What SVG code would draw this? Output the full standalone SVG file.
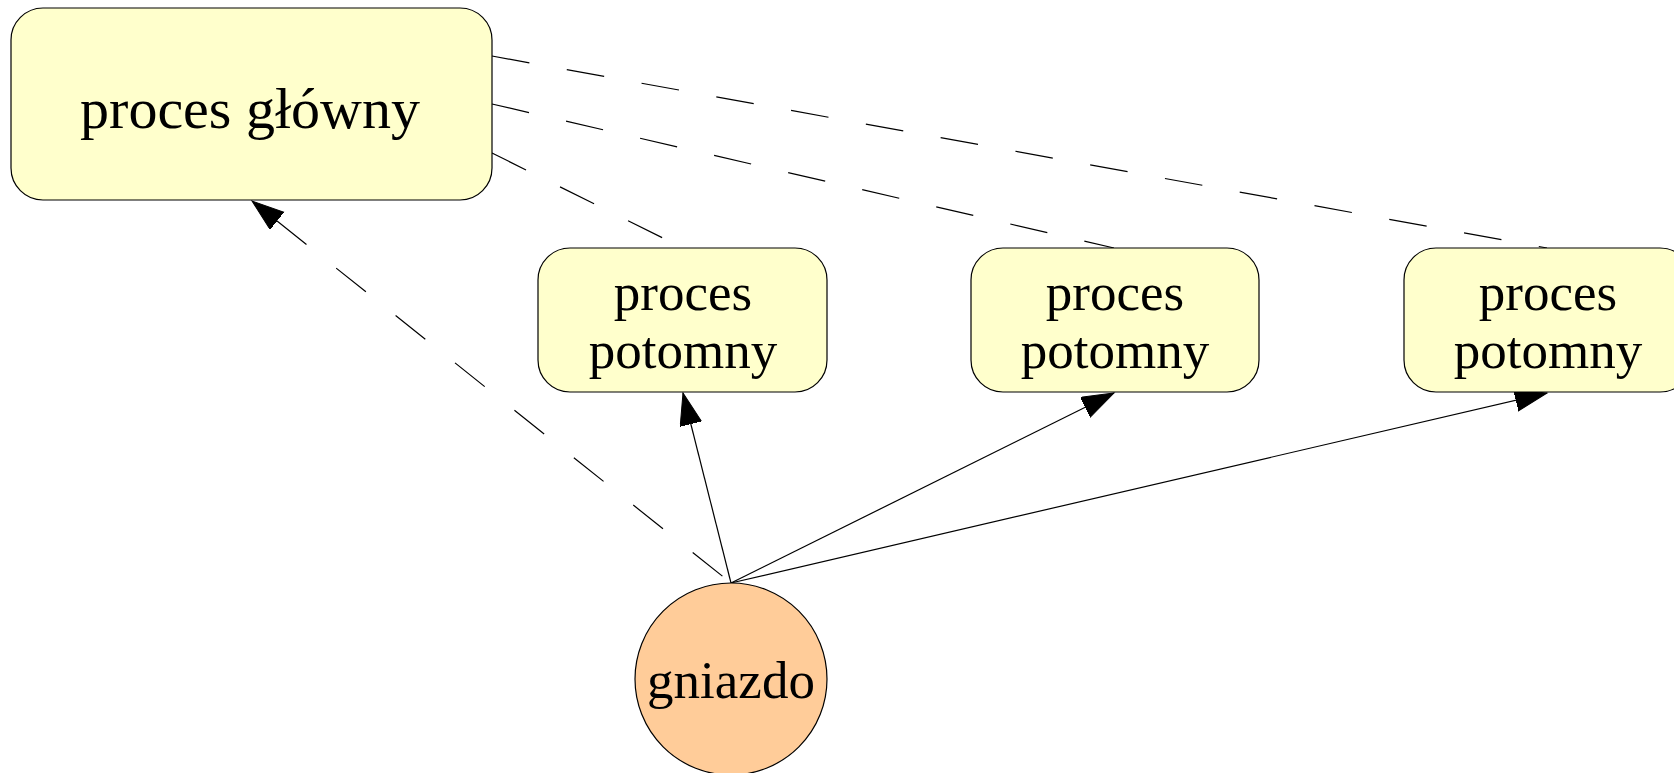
<svg xmlns="http://www.w3.org/2000/svg" width="1674" height="773" viewBox="0 0 1674 773">
<style>
.box{fill:#ffffcc;stroke:#000;stroke-width:1.2}
.circ{fill:#ffcc99;stroke:#000;stroke-width:1.2}
.t{font-family:"Liberation Serif","Times New Roman",serif;fill:#000;text-anchor:middle}
.e{fill:none;stroke:#000;stroke-width:1.2}
.d{stroke-dasharray:38 38}
</style>
<defs>
<marker id="ah" markerUnits="userSpaceOnUse" markerWidth="34" markerHeight="24" refX="32" refY="11" orient="auto">
<path d="M0,0 L32,11 L0,22 Z" fill="#000" stroke="#000"/>
</marker>
</defs>
<rect width="1674" height="773" fill="#fff"/>
<g id="edges">
<line class="e d" x1="492" y1="56" x2="1547" y2="248"/>
<line class="e d" x1="492" y1="104" x2="1114" y2="248"/>
<line class="e d" x1="492" y1="153" x2="683" y2="248"/>
<line class="e d" x1="731" y1="583" x2="252" y2="201" style="stroke-dashoffset:65" marker-end="url(#ah)"/>
<line class="e" x1="731" y1="583" x2="683" y2="393" marker-end="url(#ah)"/>
<line class="e" x1="731" y1="583" x2="1114" y2="393" marker-end="url(#ah)"/>
<line class="e" x1="731" y1="583" x2="1547" y2="393" marker-end="url(#ah)"/>
</g>
<g id="main">
<rect class="box" x="11" y="8" width="481" height="192" rx="32"/>
<text class="t" x="250" y="128" font-size="58">proces główny</text>
</g>
<g id="child1">
<rect class="box" x="538" y="248" width="289" height="144" rx="32"/>
<text class="t" x="683" y="310" font-size="53">proces</text>
<text class="t" x="683" y="368" font-size="53">potomny</text>
</g>
<g id="child2">
<rect class="box" x="971" y="248" width="288" height="144" rx="32"/>
<text class="t" x="1115" y="310" font-size="53">proces</text>
<text class="t" x="1115" y="368" font-size="53">potomny</text>
</g>
<g id="child3">
<rect class="box" x="1404" y="248" width="288" height="144" rx="32"/>
<text class="t" x="1548" y="310" font-size="53">proces</text>
<text class="t" x="1548" y="368" font-size="53">potomny</text>
</g>
<g id="gniazdo">
<circle class="circ" cx="731" cy="679" r="96"/>
<text class="t" x="731" y="698" font-size="53">gniazdo</text>
</g>
</svg>
